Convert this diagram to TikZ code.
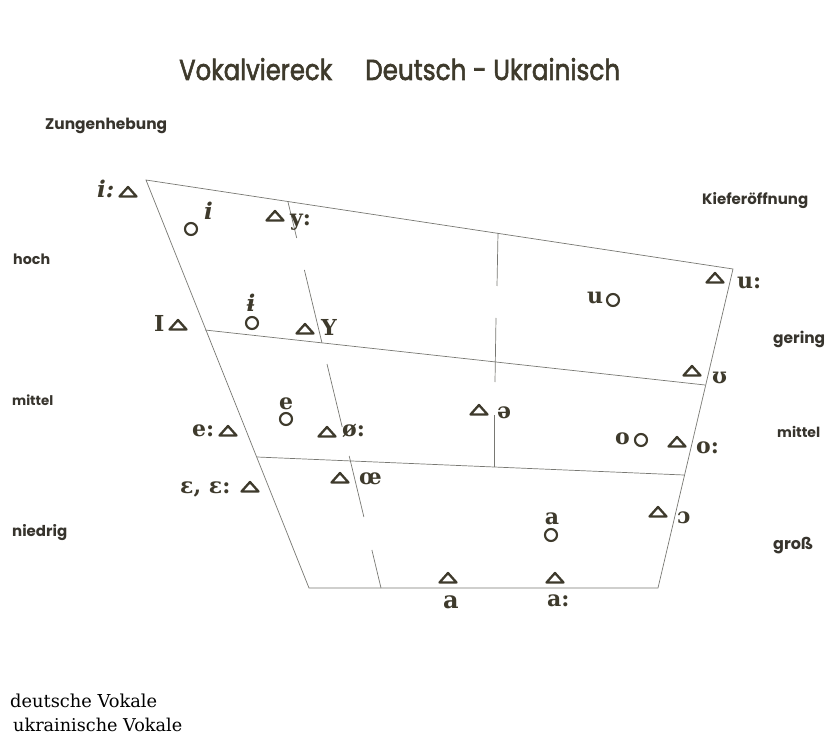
\documentclass[tikz,border=0pt]{standalone}
\usepackage{fontspec}
\setmainfont{DejaVu Serif}
\newfontfamily\labfont{Poppins}
\newfontfamily\titfont[FakeBold=2.2]{Poppins}
\newfontfamily\ipafont{DejaVu Serif}
\usetikzlibrary{calc}
\definecolor{symcol}{RGB}{62,58,44}
\definecolor{linecol}{RGB}{120,120,115}
\definecolor{labcol}{RGB}{55,52,45}
\newcommand\fitw[2]{\resizebox{#1}{!}{#2}}
\begin{document}
\begin{tikzpicture}[x=1pt,y=-1pt,
  edge/.style={draw=linecol, line width=0.7pt},
  ipa/.style={text=symcol, font=\ipafont\bfseries\fontsize{22}{22}\selectfont, inner sep=0pt},
  ipait/.style={text=symcol, font=\ipafont\bfseries\itshape\fontsize{23}{23}\selectfont, inner sep=0pt},
  lab/.style={text=labcol, font=\labfont\bfseries, inner sep=0pt, anchor=base west},
  leg/.style={text=black, font=\ipafont, inner sep=0pt, anchor=base west},
  ring/.style={circle, draw=symcol, line width=2.1pt, minimum size=12pt, inner sep=0pt},
  tri/.pic={\draw[symcol, line width=2.3pt, line join=round] (-8.5,4.5)--(8.5,4.5)--(0,-5)--cycle;}
]
\useasboundingbox (0,0) rectangle (828,738);
\fill[white] (0,0) rectangle (828,738);

% title
\node[lab, text=symcol, font=\titfont] (t1) at (179,80) {\resizebox{153pt}{22pt}{Vokalviereck}};
\node[lab, text=symcol, font=\titfont] (t2) at (365,80) {\resizebox{255pt}{22pt}{Deutsch - Ukrainisch}};

% side labels
\node[lab] (zh) at (45,130) {\fitw{122pt}{Zungenhebung}};
\node[lab] (ho) at (13,265) {\fitw{37pt}{hoch}};
\node[lab] (mi) at (12,405) {\fitw{41pt}{mittel}};
\node[lab] (ni) at (12,536) {\fitw{55pt}{niedrig}};
\node[lab] (kf) at (702,205) {\fitw{106pt}{Kieferöffnung}};
\node[lab] (ge) at (773,344) {\fitw{52pt}{gering}};
\node[lab] (mr) at (777,437) {\fitw{43pt}{mittel}};
\node[lab] (gr) at (773,549) {\fitw{40pt}{groß}};

% frame
\coordinate (TL) at (146,180);
\coordinate (TR) at (733,269);
\coordinate (BR) at (658,588);
\coordinate (BL) at (309,588);
\coordinate (L1) at (205,330); \coordinate (R1) at (705,385);
\coordinate (L2) at (257,457); \coordinate (R2) at (684,475);
\draw[edge] (TL)--(TR)--(BR)--(BL)--cycle;
\draw[edge] (L1)--(R1);
\draw[edge] (L2)--(R2);

% front/central line (broken)
\coordinate (f1) at (288,202); \coordinate (f2) at (296.7,238);
\coordinate (f3) at (304.4,270); \coordinate (f4) at (322,343);
\coordinate (f5) at (327,364); \coordinate (f6) at (342.2,427);
\coordinate (f7) at (349.2,456); \coordinate (f8) at (363.9,517);
\coordinate (f9) at (371.9,550); \coordinate (f10) at (381,588);
\draw[edge] (f1)--(f2); \draw[edge] (f3)--(f4); \draw[edge] (f5)--(f6);
\draw[edge] (f7)--(f8); \draw[edge] (f9)--(f10);
% central/back line (broken)
\coordinate (c1) at (498,233); \coordinate (c2) at (497,286);
\coordinate (c3) at (496,318); \coordinate (c4) at (495,382);
\coordinate (c5) at (494,415); \coordinate (c6) at (494,467);
\draw[edge] (c1)--(c2); \draw[edge] (c3)--(c4); \draw[edge] (c5)--(c6);

% triangles (German vowels)
\pic (ti) at (128,192) {tri};
\pic (ty) at (275,216) {tri};
\pic (tI) at (178,325) {tri};
\pic (tY) at (305,329) {tri};
\pic (tu) at (715,278) {tri};
\pic (tU) at (692,371) {tri};
\pic (te) at (228,431) {tri};
\pic (toe) at (327,432) {tri};
\pic (teps) at (250,487) {tri};
\pic (toel) at (340,478) {tri};
\pic (tschwa) at (479,410) {tri};
\pic (to) at (677,442) {tri};
\pic (topen) at (658,512) {tri};
\pic (ta) at (448,578) {tri};
\pic (taa) at (555,578) {tri};

% circles (Ukrainian vowels)
\node[ring] (ci) at (191,229) {};
\node[ring] (cy) at (252,323) {};
\node[ring] (cu) at (613,300) {};
\node[ring] (ce) at (286,419) {};
\node[ring] (co) at (641,440) {};
\node[ring] (ca) at (551,535) {};

% vowel symbols
\node[ipait, anchor=base west] (si) at (97,198) {i:};
\node[ipait, anchor=base west] (sii) at (204,220) {i};
\node[ipa, anchor=base west] (sy) at (290,226) {y:};
\node[ipait, anchor=base] (sbar) at (251,312) {ɨ};
\node[ipa, anchor=base west] (sI) at (154,331) {I};
\node[ipa, anchor=base west] (sY) at (321,336) {Y};
\node[ipa, anchor=base west] (su) at (587,304) {u};
\node[ipa, anchor=base west] (suu) at (737,289) {u:};
\node[ipa, anchor=base west] (sU) at (712,383) {ʊ};
\node[ipa, anchor=base] (se) at (286,409) {e};
\node[ipa, anchor=base west] (see) at (192,436) {e:};
\node[ipa, anchor=base west] (soe) at (342,436) {ø:};
\node[ipa, anchor=base west] (seps) at (180,493) {ɛ, ɛ:};
\node[ipa, anchor=base west] (soel) at (359,484) {œ};
\node[ipa, anchor=base west] (sschwa) at (497,418) {ə};
\node[ipa, anchor=base west] (so) at (615,444) {o};
\node[ipa, anchor=base west] (soo) at (696,453) {o:};
\node[ipa, anchor=base west] (sopen) at (677,523) {ɔ};
\node[ipa, anchor=base] (sa) at (552,524) {a};
\node[ipa, anchor=base, font=\ipafont\bfseries\fontsize{24}{24}\selectfont] (sab) at (451,608) {a};
\node[ipa, anchor=base west] (saa) at (547,606) {a:};

% legend
\node[leg] (l1) at (10,707) {\fitw{147pt}{deutsche Vokale}};
\node[leg] (l2) at (13,731) {\fitw{169pt}{ukrainische Vokale}};
\end{tikzpicture}
\end{document}
